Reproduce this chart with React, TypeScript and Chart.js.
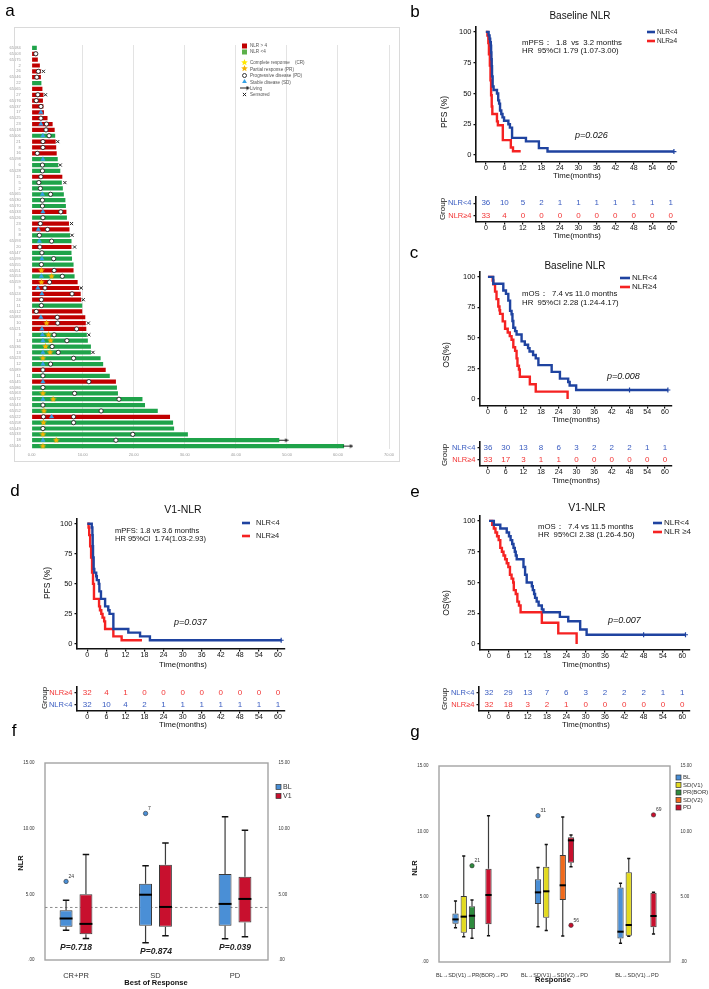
import React, { useEffect, useRef } from 'react';
import { Chart, registerables } from 'chart.js';

Chart.register(...registerables);

const W = 709;
const H = 989;
const FF = '"Liberation Sans", Arial, Helvetica, sans-serif';
Chart.defaults.font.family = FF;

/* ================= a : swimmer plot ================= */
const patientIds = ['65084', '65003', '65075', '2', '26', '65046', '22', '65065', '27', '65076',
  '65037', '17', '65025', '23', '65018', '65106', '21', '8', '16', '65098',
  '6', '65028', '15', '5', '2', '65065', '65030', '65070', '65033', '65026',
  '23', '5', '8', '65093', '20', '65047', '65099', '65055', '65051', '65053',
  '65059', '9', '65024', '24', '11', '65012', '65083', '10', '65021', '3',
  '14', '65036', '13', '65023', '12', '65089', '11', '65045', '65086', '65063',
  '65072', '65043', '65052', '65022', '65058', '65049', '65033', '18', '65040'];
// 'H' = NLR > 4 (red), 'L' = NLR < 4 (green)
const nlrGroup = ['L', 'H', 'H', 'H', 'H', 'H', 'L', 'H', 'H', 'H',
  'H', 'H', 'H', 'H', 'H', 'L', 'H', 'H', 'H', 'L',
  'L', 'L', 'H', 'L', 'L', 'L', 'L', 'L', 'H', 'L',
  'H', 'H', 'L', 'L', 'H', 'L', 'L', 'L', 'H', 'L',
  'H', 'H', 'H', 'H', 'L', 'H', 'H', 'H', 'H', 'L',
  'L', 'L', 'L', 'L', 'L', 'H', 'L', 'H', 'L', 'L',
  'L', 'L', 'L', 'H', 'L', 'L', 'L', 'L', 'L'];
const durations = [1.0, 1.1, 1.2, 1.6, 1.8, 1.8, 1.9, 2.1, 2.3, 2.2,
  2.3, 2.4, 3.1, 4.1, 4.5, 4.6, 4.7, 4.8, 4.9, 5.1,
  5.2, 5.6, 6.0, 5.9, 6.1, 6.3, 6.6, 6.7, 6.8, 6.9,
  7.3, 7.4, 7.5, 7.8, 7.8, 7.8, 7.9, 8.2, 8.2, 8.4,
  9.0, 9.3, 9.6, 9.7, 9.9, 9.9, 10.5, 10.6, 10.7, 10.8,
  11.0, 11.6, 11.6, 13.5, 14.0, 14.5, 15.3, 16.5, 16.7, 16.9,
  21.7, 22.2, 24.7, 27.1, 27.7, 27.9, 30.6, 48.5, 61.2];
// [row, month]
const pdPoints = [[1, 0.8], [4, 1.3], [5, 1.0], [8, 1.2], [9, 0.9], [10, 1.8], [12, 1.8], [13, 2.9], [14, 2.8], [15, 3.4],
  [16, 2.2], [17, 2.2], [18, 1.1], [20, 2.1], [21, 2.1], [22, 1.8], [23, 1.4], [24, 1.7], [25, 3.7], [26, 2.1],
  [27, 2.1], [28, 5.7], [29, 2.2], [30, 1.7], [31, 3.1], [32, 1.5], [33, 3.9], [34, 1.6], [35, 2.0], [36, 4.3],
  [37, 1.9], [38, 4.4], [39, 6.0], [40, 3.5], [41, 2.6], [42, 7.9], [43, 1.9], [44, 1.9], [45, 0.9], [46, 5.0],
  [47, 5.1], [48, 8.8], [49, 4.4], [50, 6.9], [51, 4.0], [52, 5.2], [53, 8.2], [54, 3.7], [55, 2.2], [56, 2.2],
  [57, 11.2], [58, 2.2], [59, 8.4], [60, 17.1], [61, 2.2], [62, 13.6], [63, 2.3], [63, 8.2], [64, 8.2], [65, 2.2],
  [66, 19.8], [67, 16.5]];
const sdPoints = [[11, 1.8], [13, 1.8], [15, 2.2], [19, 2.2], [25, 2.1], [28, 2.2], [31, 1.3], [33, 1.5], [36, 2.0], [39, 1.9],
  [41, 1.2], [42, 2.0], [46, 1.8], [48, 2.0], [49, 2.1], [50, 2.2], [52, 2.2], [54, 2.2], [57, 2.2], [60, 2.2],
  [63, 3.9], [67, 2.2]];
const prPoints = [[38, 1.9], [39, 3.9], [40, 1.9], [47, 2.9], [49, 3.3], [50, 3.7], [51, 2.7], [52, 3.6], [53, 2.2], [59, 2.2],
  [60, 4.2], [62, 2.4], [64, 2.3], [66, 2.2], [67, 4.8], [68, 2.2]];
const censoredPoints = [[4, 2.3], [8, 2.7], [16, 5.1], [20, 5.6], [23, 6.5], [30, 7.8], [32, 7.9], [34, 8.4], [41, 9.7], [43, 10.1],
  [47, 11.1], [49, 11.2], [52, 12.0]];
const livingRows = [67, 68];
const swimTicks = [0, 10, 20, 30, 40, 50, 60, 70];

/* ================= KM curves ================= */
const timeTicks = [0, 6, 12, 18, 24, 30, 36, 42, 48, 54, 60];
const survTicks = [0, 25, 50, 75, 100];

const pfsBaseLow = [[0, 100], [0.9, 97.2], [1.2, 94.4], [1.4, 91.7], [1.6, 88.9], [1.7, 83.3], [1.8, 77.8], [1.9, 72.2], [2.0, 63.9], [2.2, 55.6],
  [2.5, 52.8], [3.6, 50.0], [4.0, 44.4], [4.3, 41.7], [4.6, 36.1], [5.0, 33.3], [5.4, 30.6], [5.9, 27.8], [7.3, 25.0], [7.8, 22.2],
  [8.5, 13.9], [13.0, 11.1], [17.2, 5.6], [20.0, 2.8], [61, 2.8]];
const pfsBaseHigh = [[0, 100], [0.5, 97.0], [0.8, 90.9], [1.0, 81.8], [1.3, 72.7], [1.5, 60.6], [1.7, 48.5], [1.9, 39.4], [2.1, 33.3], [3.6, 27.3],
  [3.9, 24.2], [5.5, 12.1], [8.1, 6.1], [8.8, 3.0], [11.3, 3.0]];
const osBaseLow = [[0, 100], [1.8, 94.4], [5.2, 88.9], [6.1, 86.1], [6.9, 80.6], [7.5, 72.2], [8.0, 69.4], [8.3, 63.9], [8.6, 58.3], [9.2, 55.6],
  [9.7, 52.8], [11.4, 47.2], [12.5, 44.4], [13.6, 41.7], [14.1, 38.9], [15.3, 36.1], [16.2, 33.3], [17.1, 27.8], [21.6, 22.2], [24.4, 16.7],
  [27.2, 13.9], [27.7, 11.1], [29.9, 7.4], [61, 7.4]];
const osBaseHigh = [[0, 100], [1.6, 97.0], [1.8, 93.9], [2.4, 87.9], [2.9, 81.8], [3.5, 75.8], [3.9, 72.7], [4.1, 69.7], [5.0, 63.6], [5.8, 57.6],
  [6.7, 54.5], [7.4, 51.5], [8.0, 48.5], [8.6, 42.4], [9.2, 39.4], [9.7, 33.3], [10.0, 27.3], [10.5, 24.2], [10.8, 18.2], [14.2, 12.1],
  [16.2, 6.1], [27.0, 0]];
const pfsV1Low = [[0, 100], [1.4, 96.9], [1.6, 90.6], [1.7, 81.3], [1.8, 71.9], [2.0, 62.5], [2.2, 59.4], [2.8, 56.3], [3.0, 53.1], [3.6, 50.0],
  [3.8, 43.8], [4.3, 37.5], [5.6, 31.3], [6.6, 28.1], [7.0, 25.0], [8.2, 12.5], [12.9, 9.4], [16.6, 6.3], [19.7, 3.1], [61, 3.1]];
const pfsV1High = [[0, 100], [0.4, 96.9], [0.6, 90.6], [0.9, 81.3], [1.2, 71.9], [1.5, 59.4], [1.8, 50.0], [2.1, 37.5], [3.7, 31.3], [4.0, 28.1],
  [4.4, 25.0], [4.8, 21.9], [5.3, 18.8], [5.6, 12.5], [8.2, 6.3], [10.8, 3.1], [17.2, 3.1]];
const osV1Low = [[0, 100], [1.5, 96.9], [3.5, 93.8], [5.5, 90.6], [6.2, 87.5], [6.7, 84.4], [7.2, 81.3], [7.6, 78.1], [8.0, 75.0], [8.3, 71.9],
  [8.6, 68.8], [10.7, 62.5], [11.2, 56.3], [11.7, 50.0], [13.3, 46.9], [13.6, 43.8], [14.0, 40.6], [14.3, 37.5], [14.8, 34.4], [15.4, 31.3],
  [16.4, 28.1], [16.9, 25.8], [22.0, 22.0], [24.6, 18.5], [28.3, 11.8], [30.3, 7.5], [61, 7.5]];
const osV1High = [[0, 100], [1.0, 96.9], [1.5, 93.8], [2.0, 90.6], [2.5, 87.5], [3.0, 84.4], [3.5, 78.1], [4.0, 75.0], [4.5, 71.9], [5.0, 68.8],
  [5.5, 65.6], [6.0, 62.5], [6.5, 56.3], [7.0, 53.1], [7.5, 50.0], [7.7, 43.8], [8.3, 40.6], [8.8, 34.4], [9.3, 31.3], [9.8, 25.8],
  [16.4, 17.2], [21.5, 8.6], [27.2, 0]];
const censPfsBase = [[61, 2.8]];
const censOsBase = [[48, 7.4], [61, 7.4]];
const censPfsV1 = [[61, 3.1]];
const censOsV1 = [[48, 7.5], [61, 7.5]];

const riskPfsBaseLow = [36, 10, 5, 2, 1, 1, 1, 1, 1, 1, 1];
const riskPfsBaseHigh = [33, 4, 0, 0, 0, 0, 0, 0, 0, 0, 0];
const riskOsBaseLow = [36, 30, 13, 8, 6, 3, 2, 2, 2, 1, 1];
const riskOsBaseHigh = [33, 17, 3, 1, 1, 0, 0, 0, 0, 0, 0];
const riskPfsV1High = [32, 4, 1, 0, 0, 0, 0, 0, 0, 0, 0];
const riskPfsV1Low = [32, 10, 4, 2, 1, 1, 1, 1, 1, 1, 1];
const riskOsV1Low = [32, 29, 13, 7, 6, 3, 2, 2, 2, 1, 1];
const riskOsV1High = [32, 18, 3, 2, 1, 0, 0, 0, 0, 0, 0];

/* ================= f, g : box plots ================= */
const nlrTicks = [0, 5, 10, 15];
const respGroupsF = ['CR+PR', 'SD', 'PD'];
// [min, q1, median, q3, max]
const boxF_BL = [[2.27, 2.53, 3.16, 3.79, 4.55], [1.31, 2.6, 4.97, 5.81, 7.17], [1.62, 2.6, 4.27, 6.54, 10.9]];
const boxF_V1 = [[1.64, 1.97, 2.75, 5.0, 8.03], [1.84, 2.53, 4.04, 7.25, 8.91], [1.77, 2.85, 4.65, 6.34, 9.87]];
const outliersF = [{ s: 0, g: 0, v: 5.98, label: '24' }, { s: 0, g: 1, v: 11.16, label: '7' }];
const pValuesF = ['P=0.718', 'P=0.874', 'P=0.039'];
const nlrCutoff = 4;

const respGroupsG = ['BL→SD(V1)→PR(BOR)→PD', 'BL→SD(V1)→SD(V2)→PD', 'BL→SD(V1)→PD'];
const boxG_BL = [[2.63, 2.93, 3.26, 3.72, 4.67], [2.7, 4.44, 5.33, 6.33, 7.24], [1.43, 1.79, 2.32, 5.71, 6.02]];
const boxG_SDV1 = [[1.94, 2.24, 3.47, 5.05, 8.11], [2.42, 3.39, 5.41, 7.29, 9.0], [1.97, 2.01, 2.83, 6.86, 7.93]];
const boxG_PR = [[1.81, 2.52, 3.54, 4.26, 4.75], null, null];
const boxG_SDV2 = [null, [1.99, 4.74, 5.87, 8.19, 11.09], null];
const boxG_PD = [[2.01, 2.88, 5.13, 7.14, 11.2], [7.29, 7.6, 9.31, 9.54, 9.72], [2.14, 2.65, 3.52, 5.3, 5.33]];
const outliersG = [{ s: 2, g: 0, v: 7.37, label: '21' }, { s: 0, g: 1, v: 11.2, label: '31' }, { s: 4, g: 1, v: 2.81, label: '56' }, { s: 4, g: 2, v: 11.26, label: '69' }];

/* ================= colours ================= */
const A_RED = '#c00000';
const A_GREEN = '#1fa34a';
const A_BLUE = '#33a1e6';
const A_ORANGE = '#f5b400';
const A_YELLOW = '#ffe800';
const KM_BLUE = '#1f43a0';
const KM_RED = '#f52222';
const RK_BLUE = '#3a5cc0';
const RK_RED = '#f23535';
const BX_BLUE = '#4a8fd6';
const BX_RED = '#c8102e';
const BX_YELLOW = '#e3da1f';
const BX_GREEN = '#2e8b3e';
const BX_ORANGE = '#f06a1c';

/* ================= helpers ================= */
const imgCache: Record<string, HTMLCanvasElement> = {};
function starImage(color: string, size: number) {
  const key = 'star' + color + size;
  if (imgCache[key]) return imgCache[key];
  const c = document.createElement('canvas');
  c.width = size; c.height = size;
  const g = c.getContext('2d')!;
  const cx = size / 2, cy = size / 2, R = size / 2, r = R * 0.45;
  g.beginPath();
  for (let i = 0; i < 10; i++) {
    const ang = -Math.PI / 2 + (i * Math.PI) / 5;
    const rad = i % 2 === 0 ? R : r;
    g.lineTo(cx + rad * Math.cos(ang), cy + rad * Math.sin(ang));
  }
  g.closePath();
  g.fillStyle = color;
  g.fill();
  imgCache[key] = c;
  return c;
}
function arrowImage() {
  if (imgCache.arrow) return imgCache.arrow;
  const c = document.createElement('canvas');
  c.width = 10; c.height = 5;
  const g = c.getContext('2d')!;
  g.strokeStyle = '#222'; g.lineWidth = 1;
  g.beginPath(); g.moveTo(0, 2.5); g.lineTo(7, 2.5); g.stroke();
  g.fillStyle = '#222';
  g.beginPath(); g.moveTo(6.5, 0.5); g.lineTo(10, 2.5); g.lineTo(6.5, 4.5); g.closePath(); g.fill();
  imgCache.arrow = c;
  return c;
}

function drawGlyph(ctx: CanvasRenderingContext2D, g: string, x: number, y: number) {
  if (g === 'starY' || g === 'starO') {
    const im = starImage(g === 'starY' ? A_YELLOW : A_ORANGE, 7);
    ctx.drawImage(im, x - 3.5, y - 3.5);
  } else if (g === 'circ') {
    ctx.beginPath(); ctx.arc(x, y, 2, 0, Math.PI * 2);
    ctx.fillStyle = '#fff'; ctx.fill(); ctx.strokeStyle = '#222'; ctx.lineWidth = 0.9; ctx.stroke();
  } else if (g === 'tri') {
    ctx.beginPath(); ctx.moveTo(x, y - 2.6); ctx.lineTo(x + 2.4, y + 1.6); ctx.lineTo(x - 2.4, y + 1.6); ctx.closePath();
    ctx.fillStyle = A_BLUE; ctx.fill();
  } else if (g === 'arrow') {
    ctx.drawImage(arrowImage(), x - 5, y - 2.5);
  } else if (g === 'x') {
    ctx.strokeStyle = '#222'; ctx.lineWidth = 1;
    ctx.beginPath(); ctx.moveTo(x - 1.6, y - 1.6); ctx.lineTo(x + 1.6, y + 1.6); ctx.moveTo(x + 1.6, y - 1.6); ctx.lineTo(x - 1.6, y + 1.6); ctx.stroke();
  }
}

function drawDeco(ctx: CanvasRenderingContext2D, items: any[]) {
  ctx.save();
  for (const d of items) {
    if (d.k === 't') {
      ctx.font = `${d.it ? 'italic ' : ''}${d.w ? d.w + ' ' : ''}${d.s}px ${FF}`;
      ctx.fillStyle = d.c || '#111';
      ctx.textAlign = d.a || 'left';
      ctx.textBaseline = 'middle';
      if (d.r) {
        ctx.save(); ctx.translate(d.x, d.y); ctx.rotate(-Math.PI / 2); ctx.fillText(d.t, 0, 0); ctx.restore();
      } else ctx.fillText(d.t, d.x, d.y);
    } else if (d.k === 'l') {
      ctx.strokeStyle = d.c; ctx.lineWidth = d.lw;
      ctx.beginPath(); ctx.moveTo(d.x1, d.y); ctx.lineTo(d.x2, d.y); ctx.stroke();
    } else if (d.k === 'sq') {
      ctx.fillStyle = d.c; ctx.fillRect(d.x, d.y, d.w, d.h);
      if (d.sc) { ctx.strokeStyle = d.sc; ctx.lineWidth = 0.7; ctx.strokeRect(d.x, d.y, d.w, d.h); }
    } else if (d.k === 'frame') {
      ctx.strokeStyle = d.c; ctx.lineWidth = d.lw; ctx.strokeRect(d.x, d.y, d.w, d.h);
    } else if (d.k === 'g') {
      drawGlyph(ctx, d.g, d.x, d.y);
    }
  }
  ctx.restore();
}
const decoPlugin = (items: any[]) => ({ id: 'deco', afterDraw(chart: any) { drawDeco(chart.ctx, items); } });
const t = (text: string, x: number, y: number, s: number, extra: any = {}) => ({ k: 't', t: text, x, y, s, ...extra });

const baseOptions = (area: number[], rightExtra = 0) => ({
  animation: false,
  responsive: false,
  events: [],
  layout: { padding: { left: 0, top: area[1], right: W - area[2] - rightExtra, bottom: 0 } },
  plugins: { legend: { display: false }, tooltip: { enabled: false }, title: { display: false } },
});

const axisGrid = { display: true, drawOnChartArea: false, drawTicks: true, tickLength: 2.5, color: '#111', lineWidth: 1.2 };
const axisBorder = { display: true, color: '#111', width: 1.6 };

function kmX(xr: number[], bottom: number) {
  return {
    type: 'linear', position: 'bottom', min: xr[0], max: xr[1], offset: false,
    afterFit: (s: any) => { s.height = H - bottom; },
    afterBuildTicks: (s: any) => { s.ticks = timeTicks.map((v) => ({ value: v })); },
    ticks: { font: { size: 7, family: FF }, color: '#111', padding: -0.5, maxRotation: 0, autoSkip: false, callback: (v: any) => String(v) },
    grid: axisGrid, border: axisBorder,
  };
}

/* ================= builders ================= */
function buildSwimmer(canvas: HTMLCanvasElement) {
  const area = [31.7, 45, 389, 449];
  const rowKeys = patientIds.map((_, i) => 'r' + i);
  const pt = (arr: number[][]) => arr.map(([r, m]) => ({ x: m, y: rowKeys[r] }));
  const deco = [
    t('a', 10, 11, 17, { a: 'center', c: '#000' }),
    { k: 'frame', x: 14.5, y: 27.5, w: 385, h: 434, c: '#dadada', lw: 1 },
    { k: 'sq', x: 242, y: 43.5, w: 5, h: 5, c: A_RED },
    t('NLR > 4', 250, 46, 4.6, { c: '#555' }),
    { k: 'sq', x: 242, y: 49.5, w: 5, h: 5, c: '#5cb04a' },
    t('NLR <4', 250, 52, 4.6, { c: '#555' }),
    { k: 'g', g: 'starY', x: 244.5, y: 62.5 },
    t('Complete response    (CR)', 250, 63, 4.6, { c: '#555' }),
    { k: 'g', g: 'starO', x: 244.5, y: 68.5 },
    t('Partial response (PR)', 250, 69.5, 4.6, { c: '#555' }),
    { k: 'g', g: 'circ', x: 244.5, y: 75.5 },
    t('Progressive disease (PD)', 250, 76, 4.6, { c: '#555' }),
    { k: 'g', g: 'tri', x: 244.5, y: 81.5 },
    t('Stable disease (SD)', 250, 82.5, 4.6, { c: '#555' }),
    { k: 'g', g: 'arrow', x: 245, y: 88 },
    t('Living', 250, 89, 4.6, { c: '#555' }),
    { k: 'g', g: 'x', x: 244.5, y: 94.5 },
    t('Sensored', 250, 95, 4.6, { c: '#555' }),
  ];
  return new Chart(canvas, {
    type: 'bar',
    data: {
      labels: rowKeys,
      datasets: [
        { type: 'bar', data: durations, backgroundColor: nlrGroup.map((g) => (g === 'H' ? A_RED : A_GREEN)), barPercentage: 0.72, categoryPercentage: 1, order: 10 },
        { type: 'scatter', data: pt(sdPoints), pointStyle: 'triangle', pointRadius: 2.5, backgroundColor: A_BLUE, borderColor: A_BLUE, borderWidth: 0.5, order: 5 },
        { type: 'scatter', data: pt(prPoints), pointStyle: starImage(A_ORANGE, 7), pointRadius: 3, order: 4 },
        { type: 'scatter', data: pt(pdPoints), pointStyle: 'circle', pointRadius: 2.1, backgroundColor: '#fff', borderColor: '#222', borderWidth: 0.9, order: 3 },
        { type: 'scatter', data: pt(censoredPoints), pointStyle: 'crossRot', pointRadius: 2.2, borderColor: '#222', borderWidth: 1, order: 2 },
        { type: 'scatter', data: livingRows.map((r) => ({ x: durations[r] + 0.85, y: rowKeys[r] })), pointStyle: arrowImage(), pointRadius: 3, order: 1 },
      ],
    } as any,
    options: {
      ...baseOptions(area),
      indexAxis: 'y',
      scales: {
        x: {
          type: 'linear', position: 'bottom', min: 0, max: 70, offset: false,
          afterFit: (s: any) => { s.height = H - area[3]; },
          afterBuildTicks: (s: any) => { s.ticks = swimTicks.map((v) => ({ value: v })); },
          ticks: { font: { size: 4 }, color: '#999', padding: 3, maxRotation: 0, autoSkip: false, callback: (v: any) => Number(v).toFixed(2) },
          grid: { display: true, drawTicks: false, lineWidth: 0.8, color: (c: any) => (c.tick && c.tick.value === 0 ? 'rgba(0,0,0,0)' : '#dcdcdc') },
          border: { display: false },
        },
        y: {
          type: 'category', position: 'left', offset: true,
          afterFit: (s: any) => { s.width = area[0]; },
          ticks: { font: { size: 4 }, color: '#9a9a9a', padding: 3, autoSkip: false, callback: (_v: any, i: number) => patientIds[i] },
          grid: { display: false }, border: { display: false },
        },
      },
    } as any,
    plugins: [decoPlugin(deco)],
  });
}

function kmBuilder(spec: any) {
  return (canvas: HTMLCanvasElement) => {
    const area = spec.area;
    const datasets: any[] = [];
    for (const s of spec.series) {
      datasets.push({ type: 'line', data: s.pts.map(([x, y]: number[]) => ({ x, y })), borderColor: s.color, borderWidth: 2.4, pointRadius: 0, stepped: 'before', fill: false, borderJoinStyle: 'miter' });
      if (s.cens) datasets.push({ type: 'scatter', data: s.cens.map(([x, y]: number[]) => ({ x, y })), pointStyle: 'cross', pointRadius: 2.5, borderColor: s.color, borderWidth: 1.2 });
    }
    return new Chart(canvas, {
      type: 'line',
      data: { datasets },
      options: {
        ...baseOptions(area),
        scales: {
          x: kmX(spec.xr, area[3]),
          y: {
            type: 'linear', position: 'left', min: spec.yr[0], max: spec.yr[1],
            afterFit: (s: any) => { s.width = area[0]; },
            afterBuildTicks: (s: any) => { s.ticks = survTicks.map((v) => ({ value: v })); },
            ticks: { font: { size: 7.5 }, color: '#111', padding: 2, callback: (v: any) => String(v) },
            grid: axisGrid, border: axisBorder,
          },
        },
      } as any,
      plugins: [decoPlugin(spec.deco)],
    });
  };
}

function riskBuilder(spec: any) {
  return (canvas: HTMLCanvasElement) => {
    const area = spec.area;
    const rows = spec.rows;
    const labels = rows.map((r: any) => r.label);
    const riskPlugin = {
      id: 'riskNums',
      afterDatasetsDraw(chart: any) {
        const ctx = chart.ctx;
        ctx.save();
        ctx.font = `8px ${FF}`; ctx.textAlign = 'center'; ctx.textBaseline = 'middle';
        rows.forEach((row: any, ri: number) => {
          const meta = chart.getDatasetMeta(ri);
          ctx.fillStyle = row.color;
          meta.data.forEach((el: any, k: number) => ctx.fillText(String(row.counts[k]), el.x, el.y));
        });
        ctx.restore();
      },
    };
    return new Chart(canvas, {
      type: 'scatter',
      data: { datasets: rows.map((r: any) => ({ data: timeTicks.map((tm) => ({ x: tm, y: r.label })), pointRadius: 0 })) },
      options: {
        ...baseOptions(area),
        scales: {
          x: kmX(spec.xr, area[3]),
          y: {
            type: 'category', position: 'left', labels, offset: true,
            afterFit: (s: any) => { s.width = area[0]; },
            ticks: { font: { size: 7.5 }, padding: 2, color: (c: any) => (rows[c.index] ? rows[c.index].color : '#111') },
            grid: axisGrid, border: axisBorder,
          },
        },
      } as any,
      plugins: [riskPlugin, decoPlugin(spec.deco)],
    });
  };
}

function boxBuilder(spec: any) {
  return (canvas: HTMLCanvasElement) => {
    const area = spec.area;
    const series = spec.series;
    const fmt = (v: any) => (Number(v) === 0 ? '.00' : Number(v).toFixed(2));
    const boxPlugin = {
      id: 'boxes',
      beforeDatasetsDraw(chart: any) {
        const { ctx, chartArea: a } = chart;
        ctx.save();
        ctx.strokeStyle = '#a3a3a3'; ctx.lineWidth = 1.4;
        ctx.strokeRect(a.left, a.top, a.right - a.left, a.bottom - a.top);
        if (spec.refLine != null) {
          const y = chart.scales.y.getPixelForValue(spec.refLine);
          ctx.setLineDash([2.5, 2.5]); ctx.strokeStyle = '#8a8a8a'; ctx.lineWidth = 1;
          ctx.beginPath(); ctx.moveTo(a.left, y); ctx.lineTo(a.right, y); ctx.stroke();
        }
        ctx.restore();
      },
      afterDatasetsDraw(chart: any) {
        const { ctx } = chart;
        const ys = chart.scales.y;
        ctx.save();
        series.forEach((se: any, si: number) => {
          const meta = chart.getDatasetMeta(si);
          se.stats.forEach((st: any, gi: number) => {
            if (!st) return;
            const el: any = meta.data[gi];
            const x = el.x, w = el.width;
            const [mn, q1, md, q3, mx] = st.map((v: number) => ys.getPixelForValue(v));
            ctx.strokeStyle = '#3c3c3c'; ctx.lineWidth = 1.2;
            ctx.beginPath(); ctx.moveTo(x, q3); ctx.lineTo(x, mx); ctx.moveTo(x, q1); ctx.lineTo(x, mn); ctx.stroke();
            ctx.strokeStyle = '#111'; ctx.lineWidth = 1.5;
            ctx.beginPath();
            ctx.moveTo(x - w * 0.25, mx); ctx.lineTo(x + w * 0.25, mx);
            ctx.moveTo(x - w * 0.25, mn); ctx.lineTo(x + w * 0.25, mn);
            ctx.stroke();
            ctx.strokeStyle = '#000'; ctx.lineWidth = 2;
            ctx.beginPath(); ctx.moveTo(x - w / 2, md); ctx.lineTo(x + w / 2, md); ctx.stroke();
          });
        });
        spec.outliers.forEach((o: any) => {
          const el: any = chart.getDatasetMeta(o.s).data[o.g];
          const x = el.x, y = ys.getPixelForValue(o.v);
          ctx.beginPath(); ctx.arc(x, y, 2.2, 0, Math.PI * 2);
          ctx.fillStyle = series[o.s].color; ctx.fill();
          ctx.strokeStyle = '#333'; ctx.lineWidth = 0.6; ctx.stroke();
          ctx.fillStyle = '#333'; ctx.font = `5px ${FF}`; ctx.textAlign = 'left'; ctx.textBaseline = 'middle';
          ctx.fillText(o.label, x + 2.5, y - 5);
        });
        ctx.restore();
      },
    };
    const yAxis = (pos: string, width: number) => ({
      type: 'linear', position: pos, min: 0, max: 15,
      afterFit: (s: any) => { s.width = width; },
      afterBuildTicks: (s: any) => { s.ticks = nlrTicks.map((v) => ({ value: v })); },
      ticks: { font: { size: spec.yFont }, color: '#333', padding: 2.5, callback: fmt },
      grid: { display: false }, border: { display: false },
    });
    return new Chart(canvas, {
      type: 'bar',
      data: {
        datasets: series.map((se: any) => ({
          label: se.name,
          data: se.stats.map((st: any, gi: number) => ({ x: gi + 1, y: st ? [st[1], st[3]] : null })),
          backgroundColor: se.color, borderColor: '#3a3a3a', borderWidth: 1, borderSkipped: false,
          categoryPercentage: spec.catPct, barPercentage: spec.barPct, yAxisID: 'y',
        })),
      },
      options: {
        ...baseOptions(area, spec.rightW),
        scales: {
          x: {
            type: 'linear', position: 'bottom', min: spec.xr[0], max: spec.xr[1], offset: false,
            afterFit: (s: any) => { s.height = H - area[3]; },
            afterBuildTicks: (s: any) => { s.ticks = spec.cats.map((_: any, i: number) => ({ value: i + 1 })); },
            ticks: { font: { size: spec.catFont }, color: '#333', padding: spec.catPad, maxRotation: 0, autoSkip: false, callback: (v: any) => spec.cats[Number(v) - 1] },
            grid: { display: false }, border: { display: false },
          },
          y: yAxis('left', area[0]),
          y2: yAxis('right', spec.rightW),
        },
      } as any,
      plugins: [boxPlugin, decoPlugin(spec.deco)],
    });
  };
}

/* ================= panel specs ================= */
const legendKm = (x1: number, x2: number, tx: number, y1: number, y2: number, s: number, l1: string, l2: string) => [
  { k: 'l', x1, x2, y: y1, c: KM_BLUE, lw: 2.6 }, t(l1, tx, y1, s, { c: '#222' }),
  { k: 'l', x1, x2, y: y2, c: KM_RED, lw: 2.6 }, t(l2, tx, y2, s, { c: '#222' }),
];

const buildB = kmBuilder({
  area: [476, 27, 677, 162], xr: [-3.2, 62], yr: [-5.7, 104],
  series: [{ pts: pfsBaseLow, color: KM_BLUE, cens: censPfsBase }, { pts: pfsBaseHigh, color: KM_RED }],
  deco: [
    t('b', 415, 12, 17, { a: 'center', c: '#000' }),
    t('Baseline NLR', 580, 16, 10, { a: 'center' }),
    t('mPFS：  1.8  vs  3.2 months', 522, 43, 7.8),
    t('HR  95%CI 1.79 (1.07-3.00)', 522, 51, 7.8),
    t('p=0.026', 575, 135, 9, { it: true }),
    t('PFS (%)', 445, 112, 8.5, { a: 'center', r: true }),
    t('Time(months)', 577, 175.5, 7.8, { a: 'center' }),
    ...legendKm(647, 655, 657, 32, 41, 6.5, 'NLR<4', 'NLR≥4'),
  ],
});
const buildBRisk = riskBuilder({
  area: [476, 197, 677, 222], xr: [-3.2, 62],
  rows: [{ label: 'NLR<4', color: RK_BLUE, counts: riskPfsBaseLow }, { label: 'NLR≥4', color: RK_RED, counts: riskPfsBaseHigh }],
  deco: [t('Group', 443, 209, 8, { a: 'center', r: true }), t('Time(months)', 577, 236, 7.8, { a: 'center' })],
});
const buildC = kmBuilder({
  area: [480, 272, 672, 406], xr: [-2.7, 62.4], yr: [-5.7, 104],
  series: [{ pts: osBaseLow, color: KM_BLUE, cens: censOsBase }, { pts: osBaseHigh, color: KM_RED }],
  deco: [
    t('c', 414, 253, 17, { a: 'center', c: '#000' }),
    t('Baseline NLR', 575, 266, 10, { a: 'center' }),
    t('mOS：  7.4 vs 11.0 months', 522, 294, 7.8),
    t('HR  95%CI 2.28 (1.24-4.17)', 522, 303, 7.8),
    t('p=0.008', 607, 376, 9, { it: true }),
    t('OS(%)', 447, 355, 8.5, { a: 'center', r: true }),
    t('Time(months)', 576, 420, 7.8, { a: 'center' }),
    ...legendKm(620, 630, 632, 278, 287, 8, 'NLR<4', 'NLR≥4'),
  ],
});
const buildCRisk = riskBuilder({
  area: [480, 442, 672, 466], xr: [-2.7, 62.4],
  rows: [{ label: 'NLR<4', color: RK_BLUE, counts: riskOsBaseLow }, { label: 'NLR≥4', color: RK_RED, counts: riskOsBaseHigh }],
  deco: [t('Group', 445, 455, 8, { a: 'center', r: true }), t('Time(months)', 576, 480.5, 7.8, { a: 'center' })],
});
const buildD = kmBuilder({
  area: [77, 519, 285, 649], xr: [-3.24, 62.2], yr: [-4.2, 104],
  series: [{ pts: pfsV1Low, color: KM_BLUE, cens: censPfsV1 }, { pts: pfsV1High, color: KM_RED }],
  deco: [
    t('d', 15, 491, 17, { a: 'center', c: '#000' }),
    t('V1-NLR', 183, 510, 10.5, { a: 'center' }),
    t('mPFS: 1.8 vs 3.6 months', 115, 531, 7.5),
    t('HR 95%CI  1.74(1.03-2.93)', 115, 538.5, 7.5),
    t('p=0.037', 174, 622, 9, { it: true }),
    t('PFS (%)', 48, 583, 8.5, { a: 'center', r: true }),
    t('Time(months)', 183, 664.5, 7.8, { a: 'center' }),
    ...legendKm(242, 250, 256, 523, 536, 7.5, 'NLR<4', 'NLR≥4'),
  ],
});
const buildDRisk = riskBuilder({
  area: [77, 687, 285, 711], xr: [-3.24, 62.2],
  rows: [{ label: 'NLR≥4', color: RK_RED, counts: riskPfsV1High }, { label: 'NLR<4', color: RK_BLUE, counts: riskPfsV1Low }],
  deco: [t('Group', 45, 698, 8, { a: 'center', r: true }), t('Time(months)', 183, 724.5, 7.8, { a: 'center' })],
});
const buildE = kmBuilder({
  area: [480, 516, 690, 650], xr: [-2.8, 62.4], yr: [-4.9, 104],
  series: [{ pts: osV1Low, color: KM_BLUE, cens: censOsV1 }, { pts: osV1High, color: KM_RED }],
  deco: [
    t('e', 415, 492, 17, { a: 'center', c: '#000' }),
    t('V1-NLR', 587, 508, 10.5, { a: 'center' }),
    t('mOS：  7.4 vs 11.5 months', 538, 527, 7.8),
    t('HR  95%CI 2.38 (1.26-4.50)', 538, 535, 7.8),
    t('p=0.007', 608, 620, 9, { it: true }),
    t('OS(%)', 447, 603, 8.5, { a: 'center', r: true }),
    t('Time(months)', 586, 665, 7.8, { a: 'center' }),
    ...legendKm(653, 662, 664, 523, 532, 8, 'NLR<4', 'NLR ≥4'),
  ],
});
const buildERisk = riskBuilder({
  area: [479, 687, 690, 711], xr: [-3.1, 62.4],
  rows: [{ label: 'NLR<4', color: RK_BLUE, counts: riskOsV1Low }, { label: 'NLR≥4', color: RK_RED, counts: riskOsV1High }],
  deco: [t('Group', 445, 699, 8, { a: 'center', r: true }), t('Time(months)', 586, 725, 7.8, { a: 'center' })],
});
const buildF = boxBuilder({
  area: [45, 763, 268, 960], rightW: 25, xr: [0.61, 3.415], cats: respGroupsF, catFont: 7.5, catPad: 3, yFont: 4.5,
  catPct: 0.5, barPct: 0.65, refLine: nlrCutoff,
  series: [{ name: 'BL', color: BX_BLUE, stats: boxF_BL }, { name: 'V1', color: BX_RED, stats: boxF_V1 }],
  outliers: outliersF,
  deco: [
    t('f', 14, 731, 17, { a: 'center', c: '#000' }),
    t('NLR', 21, 863, 7.5, { a: 'center', r: true, w: 'bold' }),
    t('Best of Response', 156, 983, 7.5, { a: 'center', w: 'bold' }),
    t(pValuesF[0], 76, 948, 8.5, { a: 'center', w: 'bold', it: true, c: '#222' }),
    t(pValuesF[1], 156, 952, 8.5, { a: 'center', w: 'bold', it: true, c: '#222' }),
    t(pValuesF[2], 235, 948, 8.5, { a: 'center', w: 'bold', it: true, c: '#222' }),
    { k: 'sq', x: 276, y: 784.5, w: 5, h: 5, c: BX_BLUE, sc: '#333' }, t('BL', 283, 787, 7, { c: '#333' }),
    { k: 'sq', x: 276, y: 793.5, w: 5, h: 5, c: BX_RED, sc: '#333' }, t('V1', 283, 796, 7, { c: '#333' }),
  ],
});
const buildG = boxBuilder({
  area: [439, 766, 670, 962], rightW: 25, xr: [0.6, 3.4], cats: respGroupsG, catFont: 5.5, catPad: 2, yFont: 4.5,
  catPct: 0.5, barPct: 0.76,
  series: [
    { name: 'BL', color: BX_BLUE, stats: boxG_BL },
    { name: 'SD(V1)', color: BX_YELLOW, stats: boxG_SDV1 },
    { name: 'PR(BOR)', color: BX_GREEN, stats: boxG_PR },
    { name: 'SD(V2)', color: BX_ORANGE, stats: boxG_SDV2 },
    { name: 'PD', color: BX_RED, stats: boxG_PD },
  ],
  outliers: outliersG,
  deco: [
    t('g', 415, 732, 17, { a: 'center', c: '#000' }),
    t('NLR', 415, 868, 7.5, { a: 'center', r: true, w: 'bold' }),
    t('Response', 553, 980, 7.5, { a: 'center', w: 'bold' }),
    { k: 'sq', x: 676, y: 775, w: 5, h: 5, c: BX_BLUE, sc: '#333' }, t('BL', 683, 777.5, 6, { c: '#333' }),
    { k: 'sq', x: 676, y: 782.5, w: 5, h: 5, c: BX_YELLOW, sc: '#333' }, t('SD(V1)', 683, 785, 6, { c: '#333' }),
    { k: 'sq', x: 676, y: 790, w: 5, h: 5, c: BX_GREEN, sc: '#333' }, t('PR(BOR)', 683, 792.5, 6, { c: '#333' }),
    { k: 'sq', x: 676, y: 797.5, w: 5, h: 5, c: BX_ORANGE, sc: '#333' }, t('SD(V2)', 683, 800, 6, { c: '#333' }),
    { k: 'sq', x: 676, y: 805, w: 5, h: 5, c: BX_RED, sc: '#333' }, t('PD', 683, 807.5, 6, { c: '#333' }),
  ],
});

const builders = [buildSwimmer, buildB, buildBRisk, buildC, buildCRisk, buildD, buildDRisk, buildE, buildERisk, buildF, buildG];

function ChartCanvas({ build }: { build: (c: HTMLCanvasElement) => Chart }) {
  const ref = useRef<HTMLCanvasElement | null>(null);
  useEffect(() => {
    if (!ref.current) return;
    const ch = build(ref.current);
    return () => ch.destroy();
  }, [build]);
  return <canvas ref={ref} width={W} height={H} style={{ position: 'absolute', left: 0, top: 0, width: W, height: H }} />;
}

export default function App() {
  return (
    <div style={{ position: 'absolute', left: 0, top: 0, width: W, height: H, background: '#fff', overflow: 'hidden' }}>
      {builders.map((b, i) => (
        <ChartCanvas key={i} build={b} />
      ))}
    </div>
  );
}
